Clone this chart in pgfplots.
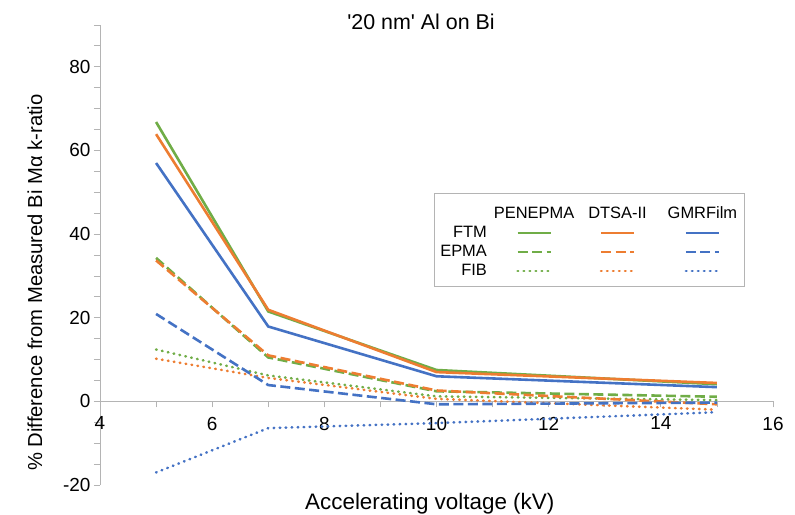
\documentclass[border=0pt]{standalone}
\usepackage{fontspec}
\setmainfont{Liberation Sans}
\usepackage{pgfplots}
\pgfplotsset{compat=1.18}
\definecolor{cgreen}{HTML}{70AD47}
\definecolor{corange}{HTML}{ED7D31}
\definecolor{cblue}{HTML}{4472C4}
\definecolor{axgray}{HTML}{B4B4B4}
\pgfplotsset{
  solidline/.style={line width=2.6bp},
  dashline/.style={line width=2.6bp, dash pattern=on 10bp off 4.5bp},
  dotline/.style={line width=2.6bp, line cap=round, dash pattern=on 0.6bp off 5.4bp},
  headerimg/.style={legend image code/.code={\path (16.5bp,11.5bp); \node[text=black, anchor=center] at (16.5bp,0bp) {#1};}},
}
\begin{document}
\begin{tikzpicture}
\begin{axis}[
  at={(0,0)}, anchor=south west,
  scale only axis, width=673bp, height=460bp,
  xmin=4, xmax=16, ymin=-20, ymax=90,
  axis x line*=middle, axis y line*=left,
  hide obscured x ticks=false,
  xtick={4,6,...,16}, minor xtick={5,7,...,15},
  ytick={-20,0,...,80}, minor ytick={-15,-10,...,90},
  tick align=outside,
  major tick length=6bp, minor tick length=6bp,
  tick style={axgray, line width=0.8bp},
  axis line style={axgray, line width=0.8bp},
  tick label style={font=\fontsize{19}{22}\selectfont},
  xticklabel style={yshift=-6bp},
  /pgf/number format/assume math mode=true,
  title={\textquotesingle 20 nm\textquotesingle{} Al on Bi},
  title style={at={(axis description cs:0.477,0.993)}, anchor=center, font=\fontsize{21.5}{24}\selectfont},
  xlabel={Accelerating voltage (kV)},
  xlabel style={at={(axis description cs:0.49,-0.04)}, anchor=center, font=\fontsize{22.5}{26}\selectfont},
  ylabel={\% Difference from Measured Bi Mα k-ratio},
  ylabel style={at={(axis description cs:-0.0966,0.44)}, rotate=0, anchor=center, font=\fontsize{20.3}{24}\selectfont},
  legend image code/.code={\draw[#1] (0bp,0bp) -- (33bp,0bp);},
  legend columns=4, legend cell align=right,
  legend style={at={(axis description cs:0.496,0.635)}, anchor=north west,
    draw=axgray, line width=1bp, inner xsep=6bp, inner ysep=8.5bp,
    font=\fontsize{16.5}{19}\selectfont, row sep=4bp, column sep=0bp,
    nodes={inner sep=0pt, text height=12bp, text depth=3bp},
    /tikz/column 2/.style={column sep=7bp},
    /tikz/column 3/.style={column sep=6.5bp},
    /tikz/column 4/.style={column sep=6.5bp},
    /tikz/column 5/.style={column sep=10bp},
    /tikz/column 6/.style={column sep=10bp}},
]
% PENEPMA (green)
\addplot[forget plot, cgreen, solidline] coordinates {(5,66.8) (7,21.5) (10,7.5) (15,4.1)};
\addplot[forget plot, cgreen, dashline] coordinates {(5,34.3) (7,10.5) (10,2.4) (15,1.1)};
\addplot[forget plot, cgreen, dotline] coordinates {(5,12.4) (7,6.2) (10,1.2) (15,0.3)};
% DTSA-II (orange)
\addplot[forget plot, corange, solidline] coordinates {(5,63.9) (7,21.9) (10,7.0) (15,4.4)};
\addplot[forget plot, corange, dashline] coordinates {(5,33.7) (7,11.0) (10,2.6) (15,-0.7)};
\addplot[forget plot, corange, dotline] coordinates {(5,10.2) (7,5.6) (10,0.6) (15,-2.0)};
% GMRFilm (blue)
\addplot[forget plot, cblue, solidline] coordinates {(5,57.0) (7,17.9) (10,6.0) (15,3.4)};
\addplot[forget plot, cblue, dashline] coordinates {(5,20.9) (7,3.9) (10,-0.7) (15,-0.3)};
\addplot[forget plot, cblue, dotline] coordinates {(5,-17.0) (7,-6.4) (10,-5.2) (15,-2.6)};
% legend: header row
\addlegendimage{empty legend}\addlegendentry{}
\addlegendimage{headerimg=PENEPMA}\addlegendentry{}
\addlegendimage{headerimg=DTSA-II}\addlegendentry{}
\addlegendimage{headerimg=GMRFilm}\addlegendentry{}
% FTM
\addlegendimage{empty legend}\addlegendentry{FTM}
\addlegendimage{cgreen, solidline}\addlegendentry{}
\addlegendimage{corange, solidline}\addlegendentry{}
\addlegendimage{cblue, solidline}\addlegendentry{}
% EPMA
\addlegendimage{empty legend}\addlegendentry{EPMA}
\addlegendimage{cgreen, dashline}\addlegendentry{}
\addlegendimage{corange, dashline}\addlegendentry{}
\addlegendimage{cblue, dashline}\addlegendentry{}
% FIB
\addlegendimage{empty legend}\addlegendentry{FIB}
\addlegendimage{cgreen, dotline}\addlegendentry{}
\addlegendimage{corange, dotline}\addlegendentry{}
\addlegendimage{cblue, dotline}\addlegendentry{}
\end{axis}
\pgfresetboundingbox
\path (-100bp,-30bp) rectangle (695bp,485bp);
\end{tikzpicture}
\end{document}
